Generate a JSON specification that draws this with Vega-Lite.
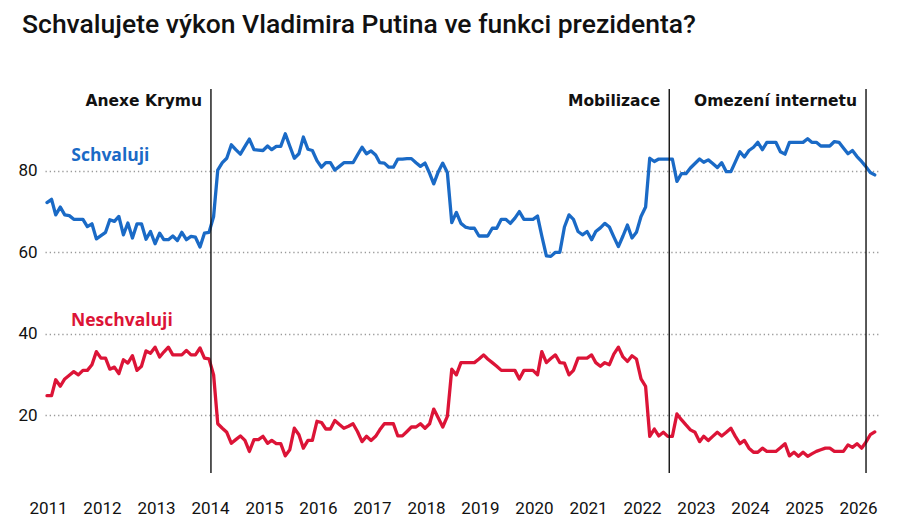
{
  "$schema": "https://vega.github.io/schema/vega-lite/v6.json",
  "width": 833,
  "height": 384,
  "autosize": {"type": "none"},
  "padding": {"left": 45, "top": 89, "right": 32, "bottom": 52},
  "background": "white",
  "title": {
    "text": "Schvalujete výkon Vladimira Putina ve funkci prezidenta?",
    "anchor": "start",
    "frame": "group",
    "font": "Roboto",
    "fontSize": 26.5,
    "fontWeight": 500,
    "color": "#111111",
    "baseline": "alphabetic",
    "dx": -23,
    "offset": 29
  },
  "config": {"view": {"stroke": null}},
  "datasets": {
    "main": [
      {"d":"2011-01","a":72.2,"n":24.8},{"d":"2011-02","a":73.0,"n":24.8},{"d":"2011-03","a":69.2,"n":28.7},{"d":"2011-04","a":71.1,"n":27.1},
      {"d":"2011-05","a":69.2,"n":28.9},{"d":"2011-06","a":69.0,"n":29.8},{"d":"2011-07","a":68.1,"n":30.7},{"d":"2011-08","a":68.1,"n":29.9},
      {"d":"2011-09","a":68.1,"n":31.0},{"d":"2011-10","a":66.3,"n":31.0},{"d":"2011-11","a":67.0,"n":32.4},{"d":"2011-12","a":63.3,"n":35.6},
      {"d":"2012-01","a":64.1,"n":34.0},{"d":"2012-02","a":64.9,"n":34.0},{"d":"2012-03","a":68.0,"n":31.3},{"d":"2012-04","a":67.6,"n":31.8},
      {"d":"2012-05","a":68.8,"n":30.2},{"d":"2012-06","a":64.3,"n":33.6},{"d":"2012-07","a":67.2,"n":32.8},{"d":"2012-08","a":63.5,"n":34.6},
      {"d":"2012-09","a":67.0,"n":31.0},{"d":"2012-10","a":67.0,"n":32.0},{"d":"2012-11","a":63.2,"n":35.8},{"d":"2012-12","a":65.1,"n":35.2},
      {"d":"2013-01","a":62.1,"n":36.7},{"d":"2013-02","a":64.7,"n":34.3},{"d":"2013-03","a":63.1,"n":35.5},{"d":"2013-04","a":63.1,"n":36.7},
      {"d":"2013-05","a":64.0,"n":34.8},{"d":"2013-06","a":62.9,"n":34.8},{"d":"2013-07","a":64.9,"n":34.8},{"d":"2013-08","a":63.1,"n":35.9},
      {"d":"2013-09","a":63.9,"n":34.8},{"d":"2013-10","a":63.7,"n":34.8},{"d":"2013-11","a":61.3,"n":36.5},{"d":"2013-12","a":64.7,"n":34.0},
      {"d":"2014-01","a":64.9,"n":33.8},{"d":"2014-02","a":68.8,"n":29.9},{"d":"2014-03","a":80.2,"n":17.9},{"d":"2014-04","a":82.0,"n":16.8},
      {"d":"2014-05","a":83.1,"n":15.8},{"d":"2014-06","a":86.4,"n":13.1},{"d":"2014-07","a":85.2,"n":14.0},{"d":"2014-08","a":84.1,"n":14.9},
      {"d":"2014-09","a":86.0,"n":13.8},{"d":"2014-10","a":87.8,"n":11.1},{"d":"2014-11","a":85.2,"n":14.0},{"d":"2014-12","a":85.1,"n":14.0},
      {"d":"2015-01","a":85.0,"n":14.8},{"d":"2015-02","a":86.1,"n":13.1},{"d":"2015-03","a":85.2,"n":13.8},{"d":"2015-04","a":86.0,"n":13.0},
      {"d":"2015-05","a":86.0,"n":13.0},{"d":"2015-06","a":89.1,"n":10.0},{"d":"2015-07","a":86.1,"n":11.5},{"d":"2015-08","a":83.1,"n":16.8},
      {"d":"2015-09","a":84.2,"n":15.2},{"d":"2015-10","a":88.3,"n":11.9},{"d":"2015-11","a":85.3,"n":13.8},{"d":"2015-12","a":85.0,"n":13.8},
      {"d":"2016-01","a":82.5,"n":18.5},{"d":"2016-02","a":80.9,"n":18.2},{"d":"2016-03","a":82.0,"n":16.6},{"d":"2016-04","a":82.0,"n":16.6},
      {"d":"2016-05","a":80.2,"n":18.7},{"d":"2016-06","a":81.1,"n":17.7},{"d":"2016-07","a":82.0,"n":16.8},{"d":"2016-08","a":82.0,"n":17.3},
      {"d":"2016-09","a":82.0,"n":17.9},{"d":"2016-10","a":83.9,"n":16.0},{"d":"2016-11","a":85.8,"n":13.5},{"d":"2016-12","a":84.2,"n":14.8},
      {"d":"2017-01","a":84.9,"n":13.8},{"d":"2017-02","a":83.9,"n":14.8},{"d":"2017-03","a":82.0,"n":16.4},{"d":"2017-04","a":81.9,"n":17.9},
      {"d":"2017-05","a":80.9,"n":17.9},{"d":"2017-06","a":80.9,"n":17.9},{"d":"2017-07","a":82.9,"n":14.9},{"d":"2017-08","a":82.9,"n":14.9},
      {"d":"2017-09","a":83.0,"n":16.0},{"d":"2017-10","a":83.0,"n":17.1},{"d":"2017-11","a":82.0,"n":17.1},{"d":"2017-12","a":81.1,"n":17.9},
      {"d":"2018-01","a":81.9,"n":16.8},{"d":"2018-02","a":79.4,"n":17.9},{"d":"2018-03","a":76.8,"n":21.5},{"d":"2018-04","a":79.8,"n":19.3},
      {"d":"2018-05","a":81.9,"n":17.1},{"d":"2018-06","a":79.6,"n":19.7},{"d":"2018-07","a":67.3,"n":31.3},{"d":"2018-08","a":69.8,"n":29.9},
      {"d":"2018-09","a":67.1,"n":32.9},{"d":"2018-10","a":66.2,"n":32.9},{"d":"2018-11","a":65.9,"n":32.9},{"d":"2018-12","a":65.9,"n":32.9},
      {"d":"2019-01","a":64.0,"n":33.8},{"d":"2019-02","a":64.0,"n":34.8},{"d":"2019-03","a":64.0,"n":33.8},{"d":"2019-04","a":65.9,"n":32.9},
      {"d":"2019-05","a":65.9,"n":32.0},{"d":"2019-06","a":68.1,"n":31.0},{"d":"2019-07","a":68.1,"n":31.0},{"d":"2019-08","a":67.1,"n":31.0},
      {"d":"2019-09","a":68.4,"n":31.0},{"d":"2019-10","a":70.0,"n":28.9},{"d":"2019-11","a":68.1,"n":31.0},{"d":"2019-12","a":68.1,"n":31.0},
      {"d":"2020-01","a":68.1,"n":31.0},{"d":"2020-02","a":68.9,"n":29.9},{"d":"2020-03","a":64.0,"n":35.6},{"d":"2020-04","a":59.1,"n":32.9},
      {"d":"2020-05","a":59.0,"n":33.9},{"d":"2020-06","a":60.0,"n":34.8},{"d":"2020-07","a":60.0,"n":32.9},{"d":"2020-08","a":66.2,"n":32.8},
      {"d":"2020-09","a":69.2,"n":29.9},{"d":"2020-10","a":68.1,"n":31.0},{"d":"2020-11","a":65.1,"n":34.0},{"d":"2020-12","a":64.3,"n":34.0},
      {"d":"2021-01","a":65.1,"n":34.0},{"d":"2021-02","a":63.1,"n":34.8},{"d":"2021-03","a":65.1,"n":32.9},{"d":"2021-04","a":66.0,"n":32.0},
      {"d":"2021-05","a":67.1,"n":32.9},{"d":"2021-06","a":66.2,"n":32.4},{"d":"2021-07","a":63.8,"n":35.0},{"d":"2021-08","a":61.4,"n":36.7},
      {"d":"2021-09","a":64.0,"n":34.3},{"d":"2021-10","a":66.7,"n":33.2},{"d":"2021-11","a":63.5,"n":34.6},{"d":"2021-12","a":64.9,"n":33.8},
      {"d":"2022-01","a":68.8,"n":28.9},{"d":"2022-02","a":71.1,"n":27.1},{"d":"2022-03","a":83.1,"n":14.8},{"d":"2022-04","a":82.3,"n":16.6},
      {"d":"2022-05","a":82.9,"n":14.9},{"d":"2022-06","a":82.9,"n":15.8},{"d":"2022-07","a":82.9,"n":14.8},{"d":"2022-08","a":82.9,"n":14.8},
      {"d":"2022-09","a":77.4,"n":20.3},{"d":"2022-10","a":79.3,"n":18.9},{"d":"2022-11","a":79.3,"n":17.6},{"d":"2022-12","a":80.7,"n":16.4},
      {"d":"2023-01","a":81.8,"n":15.8},{"d":"2023-02","a":82.9,"n":13.5},{"d":"2023-03","a":82.1,"n":14.8},{"d":"2023-04","a":82.7,"n":13.8},
      {"d":"2023-05","a":81.8,"n":14.8},{"d":"2023-06","a":80.8,"n":15.8},{"d":"2023-07","a":82.0,"n":14.9},{"d":"2023-08","a":79.8,"n":15.8},
      {"d":"2023-09","a":79.8,"n":16.8},{"d":"2023-10","a":82.2,"n":14.8},{"d":"2023-11","a":84.7,"n":13.0},{"d":"2023-12","a":83.4,"n":13.8},
      {"d":"2024-01","a":85.0,"n":11.9},{"d":"2024-02","a":85.8,"n":10.9},{"d":"2024-03","a":87.0,"n":10.9},{"d":"2024-04","a":85.2,"n":11.9},
      {"d":"2024-05","a":87.0,"n":11.1},{"d":"2024-06","a":87.0,"n":11.1},{"d":"2024-07","a":87.0,"n":11.1},{"d":"2024-08","a":84.7,"n":12.0},
      {"d":"2024-09","a":84.1,"n":13.0},{"d":"2024-10","a":87.0,"n":10.0},{"d":"2024-11","a":87.0,"n":10.9},{"d":"2024-12","a":87.0,"n":9.9},
      {"d":"2025-01","a":87.0,"n":10.9},{"d":"2025-02","a":87.9,"n":9.9},{"d":"2025-03","a":87.0,"n":10.5},{"d":"2025-04","a":87.0,"n":11.1},
      {"d":"2025-05","a":86.1,"n":11.5},{"d":"2025-06","a":86.1,"n":11.9},{"d":"2025-07","a":86.1,"n":11.9},{"d":"2025-08","a":87.2,"n":11.1},
      {"d":"2025-09","a":87.0,"n":11.1},{"d":"2025-10","a":85.6,"n":11.1},{"d":"2025-11","a":84.2,"n":12.7},{"d":"2025-12","a":85.0,"n":12.1},
      {"d":"2026-01","a":83.5,"n":13.0},{"d":"2026-02","a":82.3,"n":11.9},{"d":"2026-03","a":81.1,"n":13.3},{"d":"2026-04","a":79.6,"n":15.2},
      {"d":"2026-05","a":79.0,"n":15.9}
    ],
    "events": [
      {"d":"2014-01-14","label":"Anexe Krymu"},
      {"d":"2022-07-11","label":"Mobilizace"},
      {"d":"2026-03-03","label":"Omezení internetu"}
    ],
    "series": [
      {"d":"2011-06-14","v":82.5,"t":"Schvaluji"},
      {"d":"2011-06-12","v":41.8,"t":"Neschvaluji"}
    ]
  },
  "layer": [
    {
      "data": {"name": "main"},
      "mark": {"type": "line", "color": "#1a6ac6", "strokeWidth": 3.3, "strokeJoin": "round", "strokeCap": "round"},
      "encoding": {
        "x": {
          "field": "d", "type": "temporal",
          "scale": {"type": "utc", "domain": ["2010-12-18T12:00:00Z", "2026-05-23T00:00:00Z"], "nice": false},
          "axis": {
            "title": null, "format": "%Y", "tickCount": {"interval": "year", "step": 1},
            "grid": false, "domain": false, "ticks": false, "labelFlush": false, "labelOverlap": false,
            "labelPadding": 27, "labelOffset": 1, "labelFont": "Roboto", "labelFontSize": 17, "labelColor": "#111111"
          }
        },
        "y": {
          "field": "a", "type": "quantitative",
          "scale": {"domain": [5.8, 100.1], "nice": false, "zero": false},
          "axis": {
            "title": null, "values": [20, 40, 60, 80], "grid": true, "gridDash": [1.3, 2.9], "gridColor": "#9a9a9a", "gridWidth": 1.3,
            "domain": false, "ticks": false, "labelPadding": 8, "labelFont": "Roboto", "labelFontSize": 17, "labelColor": "#111111"
          }
        }
      }
    },
    {
      "data": {"name": "main"},
      "mark": {"type": "line", "color": "#dc1437", "strokeWidth": 3.3, "strokeJoin": "round", "strokeCap": "round"},
      "encoding": {
        "x": {"field": "d", "type": "temporal"},
        "y": {"field": "n", "type": "quantitative"}
      }
    },
    {
      "data": {"name": "events"},
      "mark": {"type": "rule", "color": "#111111", "strokeWidth": 1.4},
      "encoding": {
        "x": {"field": "d", "type": "temporal"}
      }
    },
    {
      "data": {"name": "events"},
      "mark": {"type": "text", "align": "right", "baseline": "alphabetic", "dx": -9, "font": "DejaVu Sans", "fontWeight": "bold", "fontSize": 15.5, "color": "#111111"},
      "encoding": {
        "x": {"field": "d", "type": "temporal"},
        "y": {"datum": 96.0},
        "text": {"field": "label"}
      }
    },
    {
      "data": {"name": "series"},
      "mark": {"type": "text", "align": "left", "baseline": "alphabetic", "font": "Open Sans", "fontWeight": "bold", "fontSize": 17.5},
      "encoding": {
        "x": {"field": "d", "type": "temporal"},
        "y": {"field": "v", "type": "quantitative"},
        "text": {"field": "t"},
        "color": {"field": "t", "type": "nominal", "scale": {"domain": ["Schvaluji", "Neschvaluji"], "range": ["#1a6ac6", "#dc1437"]}, "legend": null}
      }
    }
  ]
}
